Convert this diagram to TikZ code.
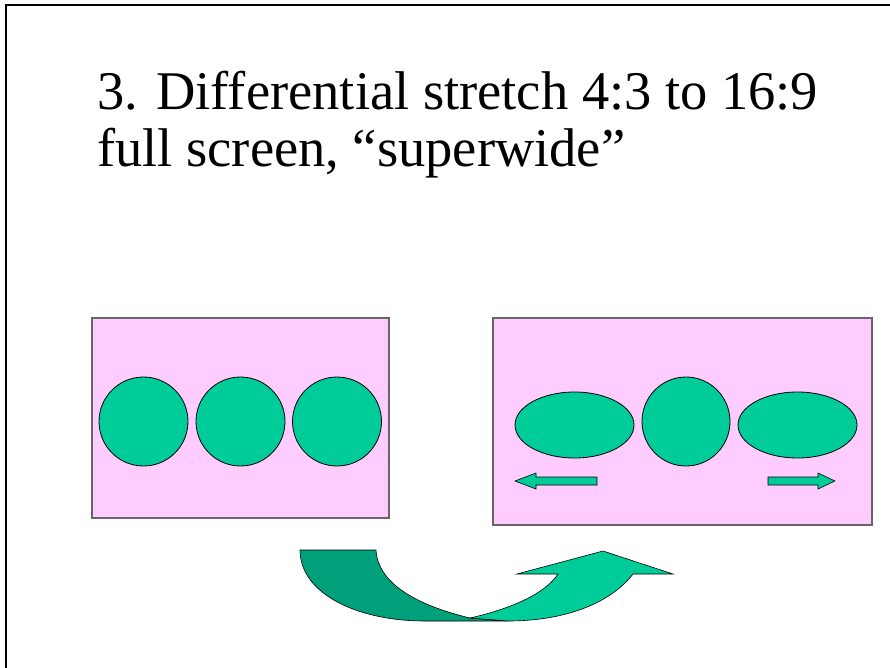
\documentclass[tikz,border=0pt]{standalone}
\usepackage{fontspec}
\setmainfont{Liberation Serif}
\usetikzlibrary{shapes.geometric}
\definecolor{pinkbg}{HTML}{FFCCFF}
\definecolor{teal1}{HTML}{00CC99}
\definecolor{teal2}{HTML}{00A07A}
\definecolor{boxedge}{HTML}{666666}
\tikzset{
  screen/.style={draw=boxedge, line width=1.2pt, fill=pinkbg},
  disc/.style={ellipse, draw=black, line width=0.8pt, fill=teal1, inner sep=0pt},
  flat/.style={draw=black, line width=0.6pt, fill=teal1, line join=miter},
  title/.style={font=\fontsize{54.5}{57}\selectfont, inner sep=0pt, anchor=base west}
}
\begin{document}
\begin{tikzpicture}[x=1pt,y=-1pt]
\useasboundingbox (0,0) rectangle (890,668);
% slide frame
\draw[line width=2pt] (6,668) -- (6,5) -- (890,5);

% heading, two lines
\node[title] (head1) at (97,110) {3. Differential stretch 4:3 to 16:9};
\node[title] (head2) at (97,167) {full screen, ``superwide''};

% 4:3 picture
\node[screen, minimum width=297pt, minimum height=200pt, inner sep=0pt] (left) at (240.5,418) {};
\node[disc, minimum width=89pt, minimum height=89pt] (c1) at (143.5,421.5) {};
\node[disc, minimum width=89pt, minimum height=89pt] (c2) at (240.5,421.5) {};
\node[disc, minimum width=89pt, minimum height=89pt] (c3) at (337,421.5) {};

% 16:9 picture
\node[screen, minimum width=379pt, minimum height=207pt, inner sep=0pt] (right) at (682.5,421.5) {};
\node[disc, minimum width=119pt, minimum height=66pt] (e1) at (574.5,425) {};
\node[disc, minimum width=88pt, minimum height=89pt] (e2) at (686,421.5) {};
\node[disc, minimum width=119pt, minimum height=66pt] (e3) at (797.5,425) {};

% stretch arrows
\draw[flat] (515,481) -- (536,473) -- (536,477) -- (597,477) -- (597,485) -- (536,485) -- (536,489) -- cycle;
\draw[flat] (835,481) -- (818,473) -- (818,477) -- (768,477) -- (768,485) -- (818,485) -- (818,489) -- cycle;

% curved transition arrow
\draw[flat, fill=teal2] (300,550) -- (376,550)
  .. controls (378,585) and (420,606) .. (470,618)
  -- (508,621) -- (425,621)
  .. controls (356,621) and (300,593) .. (300,550) -- cycle;
\draw[flat] (470,618)
  .. controls (510,609) and (545,594) .. (558,574)
  -- (517,574) -- (603,551) -- (673,574) -- (633,574)
  .. controls (608,606) and (560,621) .. (508,621) -- cycle;
\end{tikzpicture}
\end{document}
